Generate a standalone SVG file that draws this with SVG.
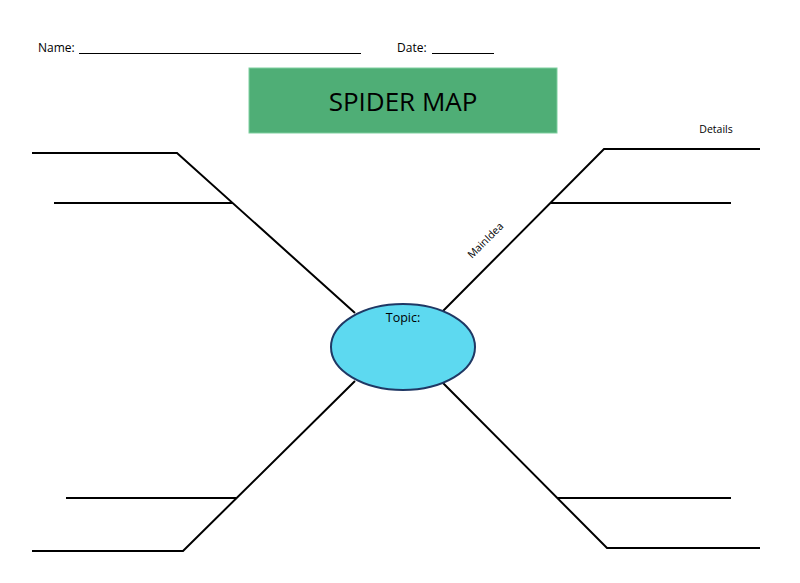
<svg xmlns="http://www.w3.org/2000/svg" width="800" height="583" viewBox="0 0 800 583">
<style>
text{font-family:"Open Sans","Liberation Sans",sans-serif;fill:#000}
.ln{stroke:#000;stroke-width:2;fill:none;stroke-linecap:butt}
.ul{stroke:#000;stroke-width:1.2}
</style>
<rect width="800" height="583" fill="#fff"/>
<g id="header">
<text x="38" y="52" font-size="12">Name:</text>
<line class="ul" x1="79" y1="53.5" x2="361" y2="53.5"/>
<text x="397" y="52" font-size="12">Date:</text>
<line class="ul" x1="432" y1="53.5" x2="494" y2="53.5"/>
</g>
<g id="title">
<rect x="249" y="68" width="308" height="65" fill="#4fae76" stroke="#7fcf9f" stroke-width="1"/>
<text x="403" y="111" font-size="26" text-anchor="middle">SPIDER MAP</text>
</g>
<g id="connectors">
<polyline class="ln" points="32,153 177,153 355,313"/>
<line class="ln" x1="54" y1="203" x2="233" y2="203"/>
<polyline class="ln" points="760,149 604,149 443,311"/>
<line class="ln" x1="551" y1="203" x2="731" y2="203"/>
<polyline class="ln" points="355,381 183,551 32,551"/>
<line class="ln" x1="66" y1="498" x2="236" y2="498"/>
<polyline class="ln" points="443,383 607,548 760,548"/>
<line class="ln" x1="557" y1="498" x2="731" y2="498"/>
</g>
<g id="labels">
<text x="716" y="133" font-size="10.5" text-anchor="middle">Details</text>
<text x="0" y="0" font-size="10.5" text-anchor="middle" transform="translate(488,243) rotate(-45)">MainIdea</text>
</g>
<g id="topic">
<ellipse cx="403" cy="347" rx="72" ry="43" fill="#5dd9f0" stroke="#1f3864" stroke-width="2"/>
<text x="403" y="322" font-size="12.5" text-anchor="middle">Topic:</text>
</g>
</svg>
